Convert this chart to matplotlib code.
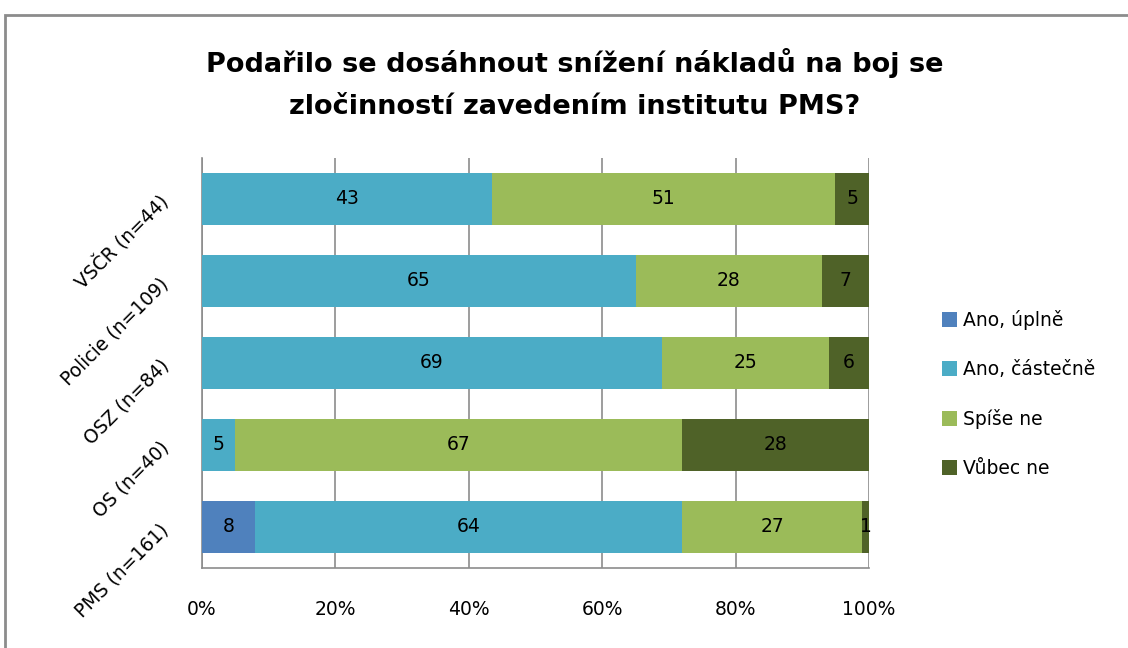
import matplotlib
matplotlib.use("Agg")
import matplotlib.pyplot as plt
from matplotlib.patches import Rectangle
import numpy as np

plt.rcParams['font.family'] = ['DejaVu Sans']

title = "Podařilo se dosáhnout snížení nákladů na boj se\nzločinností zavedením institutu PMS?"
categories = ["VSČR (n=44)", "Policie (n=109)", "OSZ (n=84)", "OS (n=40)", "PMS (n=161)"]
series_names = ["Ano, úplně", "Ano, částečně", "Spíše ne", "Vůbec ne"]
ano_uplne    = [0, 0, 0, 0, 8]
ano_castecne = [43, 65, 69, 5, 64]
spise_ne     = [51, 28, 25, 67, 27]
vubec_ne     = [5, 7, 6, 28, 1]
xtick_labels = ["0%", "20%", "40%", "60%", "80%", "100%"]
colors = ["#4F81BD", "#4BACC6", "#9BBB59", "#4F6228"]

W, H = 1128, 648
fig = plt.figure(figsize=(W / 100, H / 100), dpi=100)

# outer chart border
fig.patches.append(Rectangle((5 / W, -0.05), 1.1, (H - 15) / H + 0.05, transform=fig.transFigure,
                             fill=False, edgecolor="#8c8c8c", linewidth=2))

x0, x1, ytop, ybot = 202, 869, 158, 568
ax = fig.add_axes([x0 / W, (H - ybot) / H, (x1 - x0) / W, (ybot - ytop) / H])

FS = 13.5
data = np.array([ano_uplne, ano_castecne, spise_ne, vubec_ne], dtype=float)
totals = data.sum(axis=0)
pct = data / totals * 100
y = np.arange(len(categories))
left = np.zeros(len(categories))
for i, name in enumerate(series_names):
    ax.barh(y, pct[i], left=left, height=0.63, color=colors[i], label=name, zorder=3)
    for j in range(len(categories)):
        if data[i, j] > 0:
            ax.text(left[j] + pct[i, j] / 2, y[j], f"{int(data[i, j])}", ha="center", va="center",
                    fontsize=FS, color="black", zorder=4)
    left += pct[i]

ax.set_xlim(0, 100)
ax.set_ylim(len(categories) - 0.5, -0.5)
ax.set_xticks([0, 20, 40, 60, 80, 100])
ax.set_xticklabels(xtick_labels, fontsize=FS)
ax.set_yticks(y)
ax.set_yticklabels(categories, fontsize=FS, rotation=45, ha="right", va="center",
                   rotation_mode="anchor")
ax.tick_params(axis="x", length=0, pad=23)
ax.tick_params(axis="y", length=0, pad=26)
ax.grid(axis="x", color="#8c8c8c", linewidth=1.2, zorder=0)
for s in ["top", "right"]:
    ax.spines[s].set_visible(False)
for s in ["left", "bottom"]:
    ax.spines[s].set_color("#8c8c8c")
    ax.spines[s].set_linewidth(1.2)

fig.text(575 / W, 1 - 84 / H, title, ha="center", va="center", fontsize=19.5, fontweight="bold",
         linespacing=1.8)

leg = fig.legend(loc="center left", bbox_to_anchor=(925 / W, 1 - 394 / H), frameon=False,
                 fontsize=FS, handlelength=0.8, handleheight=0.8, labelspacing=1.6,
                 handletextpad=0.35)

fig.savefig("out.png", dpi=100)
